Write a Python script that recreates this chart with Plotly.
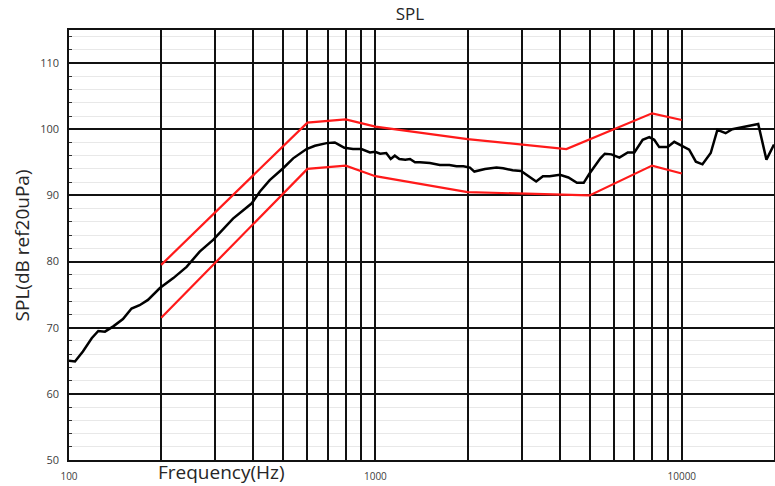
import plotly.graph_objects as go

# Measured SPL curve
freq = [100, 104.6, 111, 118.6, 124.6, 131, 139.5, 150, 160, 170,
        181, 198, 219, 242, 267, 296, 343, 395, 420, 452,
        500, 539, 596, 635, 693, 737, 764, 792, 845, 900,
        960, 997, 1037, 1085, 1122, 1157, 1197, 1252, 1297, 1347,
        1397, 1506, 1623, 1744, 1840, 1938, 2035, 2104, 2279, 2485,
        2612, 2805, 2988, 3183, 3348, 3522, 3706, 4000, 4265, 4548,
        4785, 5000, 5425, 5609, 5894, 6258, 6664, 7003, 7454, 7835,
        8131, 8441, 8993, 9451, 9938, 10571, 11118, 11685, 12431, 13068,
        13904, 14614, 17763, 18895, 20000]
spl = [65.0, 64.9, 66.4, 68.4, 69.5, 69.4, 70.2, 71.3, 72.9, 73.4,
       74.2, 76.0, 77.5, 79.2, 81.5, 83.3, 86.5, 88.8, 90.6, 92.3,
       94.1, 95.6, 97.0, 97.5, 97.9, 98.0, 97.6, 97.2, 97.0, 97.0,
       96.5, 96.6, 96.3, 96.4, 95.5, 96.0, 95.5, 95.4, 95.5, 95.0,
       95.0, 94.9, 94.6, 94.6, 94.4, 94.4, 94.2, 93.6, 94.0, 94.2,
       94.1, 93.8, 93.7, 92.8, 92.1, 92.9, 92.9, 93.1, 92.7, 91.9,
       91.9, 93.3, 95.6, 96.3, 96.2, 95.7, 96.5, 96.5, 98.4, 98.8,
       98.4, 97.3, 97.3, 98.1, 97.6, 96.9, 95.1, 94.7, 96.4, 99.9,
       99.4, 100.0, 100.8, 95.4, 97.7]

# Tolerance limits
upper_freq = [200, 600, 800, 1000, 2000, 4200, 8000, 10000]
upper_spl = [79.5, 101.0, 101.5, 100.4, 98.5, 97.0, 102.4, 101.4]
lower_freq = [200, 600, 800, 1000, 2000, 5000, 8000, 10000]
lower_spl = [71.5, 94.0, 94.5, 92.9, 90.5, 90.0, 94.5, 93.3]

# Vertical grid positions and their labels (blank where unlabeled)
x_tickvals = [100, 200, 300, 400, 500, 600, 700, 800, 900,
              1000, 2000, 3000, 4000, 5000, 6000, 7000, 8000, 9000, 10000]
x_ticktext = ["100", "", "", "", "", "", "", "", "",
              "1000", "", "", "", "", "", "", "", "", "10000"]

FONT = "Open Sans"
GRID = "#111111"

fig = go.Figure()
fig.add_trace(go.Scatter(x=upper_freq, y=upper_spl, mode="lines",
                         line=dict(color="#ff1a1a", width=2.2), hoverinfo="skip"))
fig.add_trace(go.Scatter(x=lower_freq, y=lower_spl, mode="lines",
                         line=dict(color="#ff1a1a", width=2.2), hoverinfo="skip"))
fig.add_trace(go.Scatter(x=freq, y=spl, mode="lines",
                         line=dict(color="black", width=2.5)))

fig.update_layout(
    width=775, height=486,
    margin=dict(l=69, r=1, t=30, b=26, autoexpand=False),
    paper_bgcolor="white", plot_bgcolor="white",
    showlegend=False,
    title=dict(text="SPL", x=0.529, xref="container", xanchor="center",
               y=1 - 14 / 486, yref="container", yanchor="middle", pad=dict(t=0),
               font=dict(family=FONT, size=17, color="#262626")),
    font=dict(family=FONT),
)
fig.update_xaxes(
    type="log", range=[2, 4.30103], automargin=False,
    tickmode="array", tickvals=x_tickvals, ticktext=x_ticktext,
    tickfont=dict(size=10, color="#404040"), ticks="", ticklabelstandoff=6,
    showgrid=True, gridcolor=GRID, gridwidth=1.6,
    showline=True, linecolor=GRID, linewidth=1.6, mirror=True,
    zeroline=False,
)
fig.update_yaxes(
    range=[50, 115], tickmode="linear", tick0=50, dtick=10, automargin=False,
    tickfont=dict(size=11, color="#404040"), ticks="", ticklabelstandoff=6,
    showgrid=True, gridcolor=GRID, gridwidth=1.6,
    minor=dict(dtick=2, showgrid=True, gridcolor="#e8e8e8", gridwidth=1,
               ticks="inside", ticklen=3, tickcolor="#333333"),
    showline=True, linecolor=GRID, linewidth=1.6, mirror=True,
    zeroline=False,
)
fig.add_annotation(text="SPL(dB ref20uPa)", textangle=-90,
                   xref="paper", yref="paper", x=-0.066, y=0.5,
                   xanchor="center", yanchor="middle", showarrow=False,
                   font=dict(family=FONT, size=19, color="#262626"))
fig.add_annotation(text="Frequency(Hz)",
                   xref="paper", yref="paper", x=0.217, y=-0.028,
                   xanchor="center", yanchor="middle", showarrow=False,
                   font=dict(family=FONT, size=19, color="#262626"))

fig.write_html("out.html", config={"displayModeBar": False},
               post_script="document.body.style.margin='0';document.body.style.overflow='hidden';")
